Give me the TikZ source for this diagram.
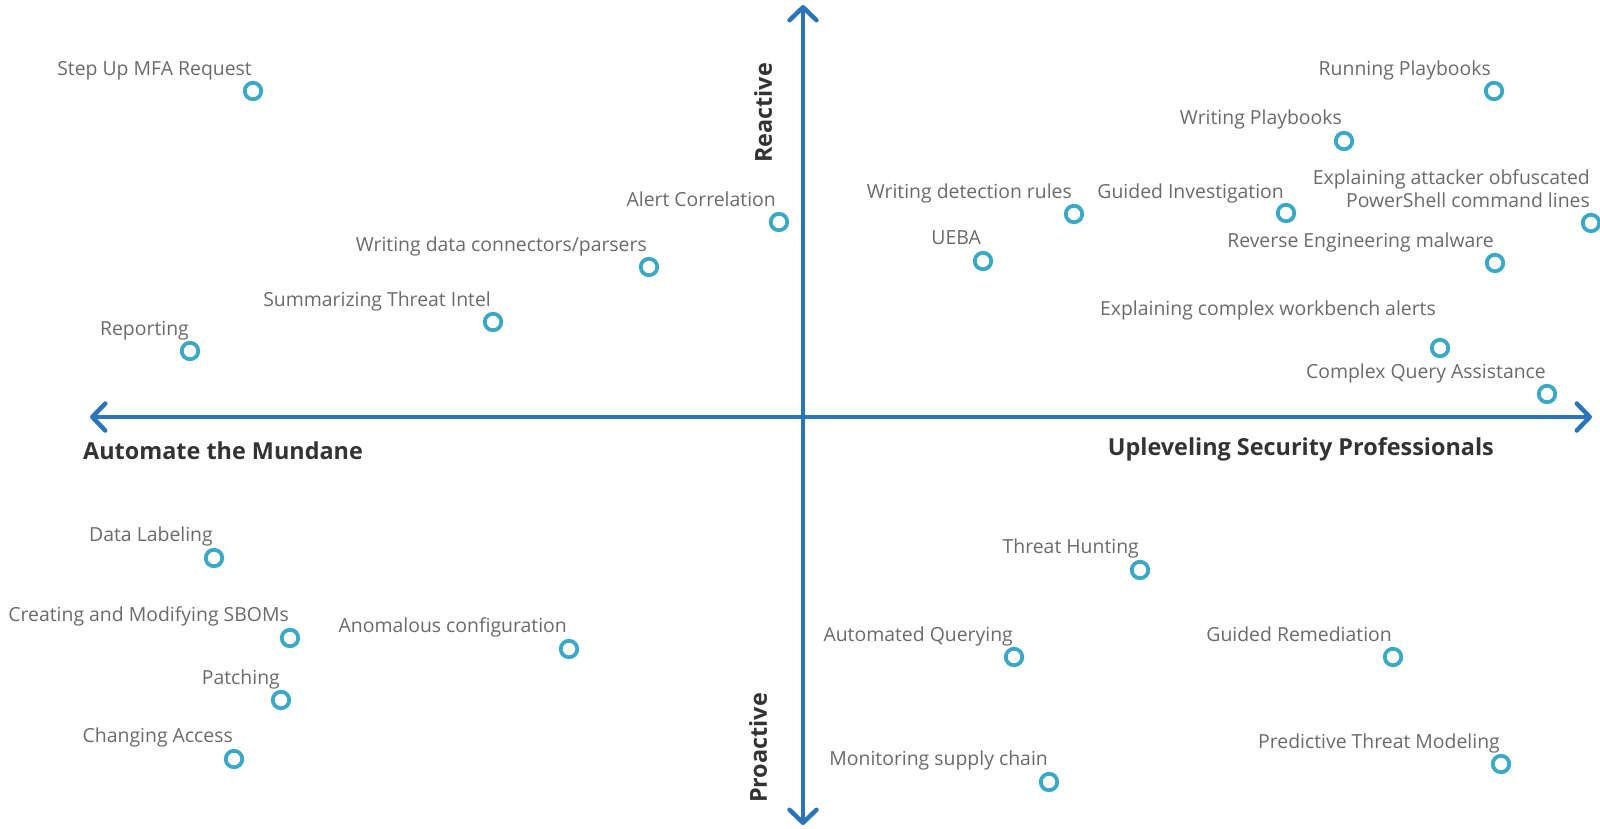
\documentclass[tikz,border=0pt]{standalone}
\usepackage{fontspec}
\setmainfont{Open Sans}
\usepackage{xcolor}
\usetikzlibrary{arrows.meta}
\definecolor{axisblue}{HTML}{2B74B9}
\definecolor{dotteal}{HTML}{3BA8C5}
\definecolor{labelgray}{HTML}{6A6A6A}
\definecolor{headgray}{HTML}{333333}

\begin{document}
\begin{tikzpicture}[x=1pt, y=-1pt, >={Straight Barb[round, length=13pt, width=27pt]},
  dot/.style={circle, draw=dotteal, line width=3.8pt, minimum size=16.5pt, inner sep=0pt},
  lbl/.style={anchor=base east, inner sep=0pt, text=labelgray, font=\fontsize{19.4}{23}\selectfont},
  head/.style={inner sep=0pt, text=headgray, font=\fontsize{23.4}{27}\selectfont\bfseries}]
  \useasboundingbox (0,0) rectangle (1600,828);
  % axes
  \coordinate (xl) at (90,417);
  \coordinate (xr) at (1592,417);
  \coordinate (yt) at (803,5);
  \coordinate (yb) at (803,825);
  \draw[axisblue, line width=4.5pt, <->] (xl) -- (xr);
  \draw[axisblue, line width=4.5pt, <->] (yb) -- (yt);
  \node[head, anchor=west] (mundane) at (83,451) {Automate the Mundane};
  \node[head, anchor=east] (uplevel) at (1494,449) {Upleveling Security Professionals};
  \node[head, rotate=90] (reactive) at (763,113) {Reactive};
  \node[head, rotate=90] (proactive) at (758,748) {Proactive};
  % reactive, mundane
  \node[dot] (mfa) at (253,91) {};
  \node[lbl] (mfa-l) at (252,75) {Step Up MFA Request};
  \node[dot] (alert) at (779,222) {};
  \node[lbl] (alert-l) at (776,206) {Alert Correlation};
  \node[dot] (parsers) at (649,267) {};
  \node[lbl] (parsers-l) at (647,251) {Writing data connectors/parsers};
  \node[dot] (intel) at (493,322) {};
  \node[lbl] (intel-l) at (491,306) {Summarizing Threat Intel};
  \node[dot] (report) at (190,351) {};
  \node[lbl] (report-l) at (189,335) {Reporting};
  % reactive, upleveling
  \node[dot] (runpb) at (1494,91) {};
  \node[lbl] (runpb-l) at (1491,75) {Running Playbooks};
  \node[dot] (writepb) at (1344,141) {};
  \node[lbl] (writepb-l) at (1342,124) {Writing Playbooks};
  \node[dot] (rules) at (1074,214) {};
  \node[lbl] (rules-l) at (1072,198) {Writing detection rules};
  \node[dot] (guided) at (1286,213) {};
  \node[lbl] (guided-l) at (1284,198) {Guided Investigation};
  \node[dot] (pwsh) at (1591,223) {};
  \node[lbl, anchor=east, align=right] (pwsh-l) at (1590,189) {Explaining attacker obfuscated\\PowerShell command lines};
  \node[dot] (ueba) at (983,261) {};
  \node[lbl] (ueba-l) at (981,244) {UEBA};
  \node[dot] (reverse) at (1495,263) {};
  \node[lbl] (reverse-l) at (1494,247) {Reverse Engineering malware};
  \node[dot] (bench) at (1440,348) {};
  \node[lbl] (bench-l) at (1436,315) {Explaining complex workbench alerts};
  \node[dot] (query) at (1547,394) {};
  \node[lbl] (query-l) at (1546,378) {Complex Query Assistance};
  % proactive, mundane
  \node[dot] (labeling) at (214,558) {};
  \node[lbl] (labeling-l) at (213,541) {Data Labeling};
  \node[dot] (sbom) at (290,638) {};
  \node[lbl] (sbom-l) at (289,621) {Creating and Modifying SBOMs};
  \node[dot] (config) at (569,649) {};
  \node[lbl] (config-l) at (567,632) {Anomalous configuration};
  \node[dot] (patch) at (281,700) {};
  \node[lbl] (patch-l) at (280,684) {Patching};
  \node[dot] (access) at (234,759) {};
  \node[lbl] (access-l) at (233,742) {Changing Access};
  % proactive, upleveling
  \node[dot] (hunt) at (1140,570) {};
  \node[lbl] (hunt-l) at (1139,553) {Threat Hunting};
  \node[dot] (autoq) at (1014,657) {};
  \node[lbl] (autoq-l) at (1013,641) {Automated Querying};
  \node[dot] (remed) at (1393,657) {};
  \node[lbl] (remed-l) at (1392,641) {Guided Remediation};
  \node[dot] (predict) at (1501,764) {};
  \node[lbl] (predict-l) at (1500,748) {Predictive Threat Modeling};
  \node[dot] (supply) at (1049,782) {};
  \node[lbl] (supply-l) at (1048,765) {Monitoring supply chain};
\end{tikzpicture}
\end{document}
